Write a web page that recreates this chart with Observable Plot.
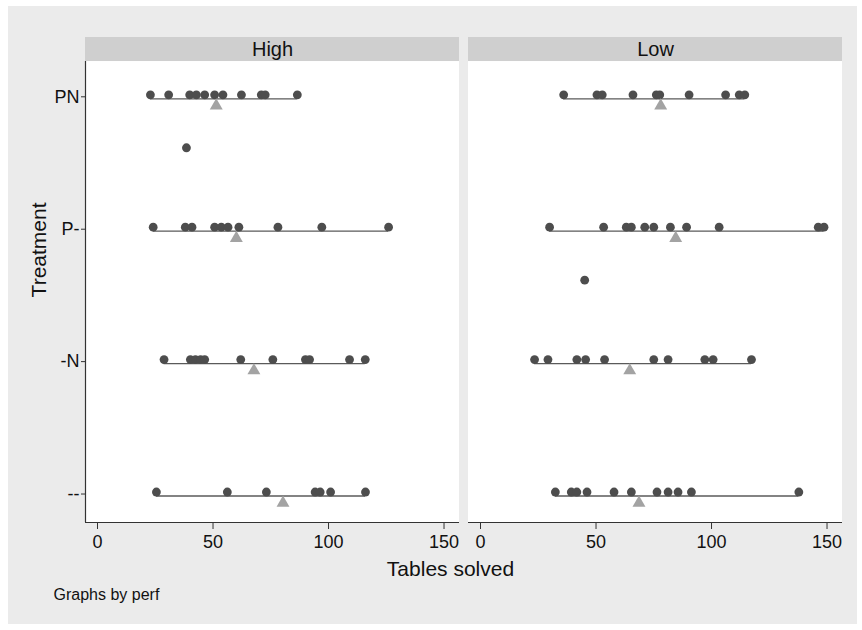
<!DOCTYPE html>
<html><head><meta charset="utf-8">
<script src="https://cdn.jsdelivr.net/npm/d3@7"></script>
<script src="https://cdn.jsdelivr.net/npm/@observablehq/plot@0.6"></script>
<style>
body{margin:0;background:#fff;}
#wrap{position:relative;width:862px;height:630px;overflow:hidden;}
#bg{position:absolute;left:8px;top:6px;width:849px;height:618px;background:#ebebeb;}
#chart{position:absolute;left:0;top:0;}
</style></head><body>
<div id="wrap"><div id="bg"></div><div id="chart"></div></div>
<script>
// ---- data ----
const perfs = ["High", "Low"];
const treatments = ["PN", "P-", "-N", "--"];
const xTicks = [0, 50, 100, 150];

const highPN   = [22.9, 30.8, 39.9, 42.8, 46.4, 50.7, 54.3, 62.3, 70.9, 72.6, 86.5];
const highP_   = [24.1, 38.0, 40.9, 50.7, 53.6, 56.5, 61.2, 78.1, 97.1, 126.0];
const high_N   = [28.8, 40.2, 42.4, 44.6, 46.4, 62.0, 75.9, 90.0, 91.8, 109.1, 115.9];
const high__   = [25.5, 56.2, 73.1, 94.2, 96.4, 100.9, 116.0];
const lowPN    = [36.0, 50.4, 52.7, 66.0, 76.1, 77.6, 90.3, 106.1, 112.0, 114.4];
const lowP_    = [29.9, 53.3, 63.1, 65.3, 71.1, 75.0, 82.2, 89.2, 103.3, 146.2, 148.7];
const low_N    = [23.4, 29.2, 41.7, 45.5, 53.7, 75.0, 81.2, 97.1, 100.7, 117.3];
const low__    = [32.4, 39.3, 41.7, 46.1, 57.8, 65.3, 76.4, 81.2, 85.5, 91.3, 137.8];

const meansHigh = [51.4, 60.1, 67.7, 80.3];
const meansLow  = [78.0, 84.5, 64.6, 68.6];

const outlierPerf  = ["High", "Low"];
const outlierValue = [38.5, 45.1];
const outlierRow   = [3.6, 2.6];

// ---- tables built from the arrays ----
const valuesByGroup = {
  High: [highPN, highP_, high_N, high__],
  Low:  [lowPN, lowP_, low_N, low__]
};
const meansByPerf = {High: meansHigh, Low: meansLow};
const rowOf = t => treatments.length - treatments.indexOf(t);

const groups = perfs.flatMap(p => treatments.map((t, i) => {
  const [mn, mx] = d3.extent(valuesByGroup[p][i]);
  return {perf: p, treatment: t, row: rowOf(t), min: mn, max: mx, mean: meansByPerf[p][i]};
}));
const points = perfs.flatMap(p => treatments.flatMap((t, i) =>
  valuesByGroup[p][i].map(v => ({perf: p, treatment: t, row: rowOf(t), value: v}))));
const outliers = outlierPerf.map((p, i) => ({perf: p, value: outlierValue[i], row: outlierRow[i]}));

// scale domains
const xMin = -5.2, xMax = 156.7;
const yBottom = 0.80, stripBottom = 4.2816, yTop = 4.463;

const chart = Plot.plot({
  width: 862,
  height: 630,
  marginLeft: 85,
  marginRight: 20,
  marginTop: 37,
  marginBottom: 108,
  style: {fontFamily: "'Liberation Sans', Arial, sans-serif", fontSize: "17px", background: "transparent", color: "#111"},
  fx: {domain: perfs, paddingInner: 0.0235, paddingOuter: 0, round: false, axis: null},
  x: {domain: [xMin, xMax]},
  y: {domain: [yBottom, yTop]},
  marks: [
    Plot.rect([0], {x1: xMin, x2: xMax, y1: yBottom, y2: stripBottom, fill: "white"}),
    Plot.rect([0], {x1: xMin, x2: xMax, y1: stripBottom, y2: yTop, fill: "#cfcfcf"}),
    Plot.text(perfs, {fx: d => d, text: d => d, x: (xMin + xMax) / 2, y: (stripBottom + yTop) / 2, fontSize: 20, fill: "#111"}),
    Plot.ruleY([yBottom], {stroke: "#333", strokeWidth: 1.2}),
    Plot.ruleX([perfs[0]], {fx: d => d, x: xMin, y1: yBottom, y2: stripBottom, stroke: "#333", strokeWidth: 1.2}),
    Plot.ruleY(groups, {fx: "perf", y: "row", x1: "min", x2: "max", stroke: "#5a5a5a", strokeWidth: 1.3}),
    Plot.dot(points, {fx: "perf", x: "value", y: "row", r: 4.4, fill: "#4d4d4d", stroke: "none", dy: -4}),
    Plot.dot(outliers, {fx: "perf", x: "value", y: "row", r: 4.4, fill: "#4d4d4d", stroke: "none", dy: -4}),
    Plot.dot(groups, {fx: "perf", x: "mean", y: "row", symbol: "triangle", r: 4.8, fill: "#a3a3a3", stroke: "none", dy: 7}),
    Plot.axisY({ticks: [4, 3, 2, 1], tickFormat: d => treatments[treatments.length - d], tickSize: 4, tickPadding: 2, label: null, fontSize: 18, stroke: "#333", dy: -2}),
    Plot.axisX({ticks: xTicks, tickSize: 7, tickPadding: 6, label: null, fontSize: 18, stroke: "#333"}),
    Plot.text([perfs[0]], {fx: d => d, text: () => "Treatment", frameAnchor: "left", y: 2.5, rotate: -90, dx: -46, fontSize: 21, fill: "#111"}),
    Plot.text([perfs[0]], {fx: d => d, text: () => "Tables solved", frameAnchor: "bottom-right", textAnchor: "middle", dx: -9, dy: 53, fontSize: 21, fill: "#111"}),
    Plot.text([perfs[0]], {fx: d => d, text: () => "Graphs by perf", frameAnchor: "bottom-left", textAnchor: "start", dx: -32, dy: 77, fontSize: 16, fill: "#111"})
  ]
});
document.getElementById("chart").appendChild(chart);
</script>
</body></html>
